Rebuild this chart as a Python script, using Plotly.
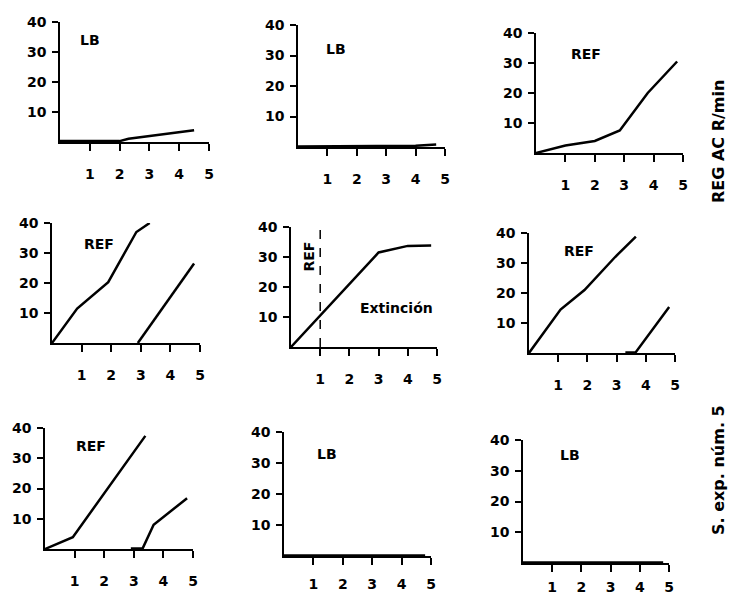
import plotly.graph_objects as go

# ---------------- data ----------------
x_ticks = [1, 2, 3, 4, 5]
y_ticks = [10, 20, 30, 40]

p1_x = [0, 2, 2.3, 3, 4.5]
p1_y = [0.3, 0.3, 1.1, 2.0, 3.9]

p2_x = [0, 3, 4, 4.7]
p2_y = [0.2, 0.2, 0.4, 0.8]

p3_x = [0, 1, 2, 2.85, 3.8, 4.8]
p3_y = [0, 2.5, 4, 7.5, 20, 30.5]

p4a_x = [0, 0.85, 1.9, 2.85, 3.3]
p4a_y = [0, 11.5, 20.3, 37, 40]
p4b_x = [2.9, 3.75, 4.8]
p4b_y = [0, 12, 26.5]

p5_x = [0, 1, 3, 4, 4.8]
p5_y = [0, 10.6, 31.5, 33.7, 33.8]
p5_ref_x = [1, 1]
p5_ref_y = [0, 40]

p6a_x = [0, 1.08, 1.9, 2.95, 3.66]
p6a_y = [0, 14.5, 21, 32, 38.8]
p6b_x = [3.3, 3.65, 4.8]
p6b_y = [0.2, 0.2, 15.3]

p7a_x = [0, 0.94, 3.39]
p7a_y = [0, 3.9, 37.4]
p7b_x = [2.9, 3.3, 3.67, 4.8]
p7b_y = [0.2, 0.2, 8, 16.8]

p8_x = [0, 4.8]
p8_y = [0.2, 0.2]

p9_x = [0, 4.8]
p9_y = [0.2, 0.2]

panel_series = [
    [(p1_x, p1_y)],
    [(p2_x, p2_y)],
    [(p3_x, p3_y)],
    [(p4a_x, p4a_y), (p4b_x, p4b_y)],
    [(p5_x, p5_y)],
    [(p6a_x, p6a_y), (p6b_x, p6b_y)],
    [(p7a_x, p7a_y), (p7b_x, p7b_y)],
    [(p8_x, p8_y)],
    [(p9_x, p9_y)],
]

panel_labels = ["LB", "LB", "REF", "REF", None, "REF", "REF", "LB", "LB"]
label_pos_x = [1.0, 1.3, 1.7, 1.6, None, 1.7, 1.55, 1.45, 1.6]
label_pos_y = [34, 32, 33, 33, None, 34, 34, 33, 35]

# ---------------- layout geometry (window pixels) ----------------
OFF = 8                      # default page body margin
W, H = 736 - 2 * OFF, 602 - 2 * OFF


def px_x(p):
    return (p - OFF) / W


def px_y(p):
    return 1 - (p - OFF) / H


# x pixel of 0, x pixel of 5, y pixel of 0, y pixel of 40, x-label standoff
geom = [
    (60, 209, 142, 22, 11),
    (298, 445, 147, 25, 11),
    (536, 683, 153, 33, 11),
    (52, 200, 343, 223, 11),
    (291, 437, 347, 227, 11),
    (529, 675, 353, 233, 11),
    (45, 193, 549, 428, 11),
    (284, 431, 556, 432, 7),
    (523, 669, 563, 440, 3),
]

font_t = dict(family="DejaVu Sans", size=14, color="black", weight="bold")
font_l = dict(family="DejaVu Sans", size=14, color="black", weight="bold")
font_s = dict(family="DejaVu Sans", size=16, color="black", weight="bold")

fig = go.Figure()
layout = dict(
    template="none",
    width=W, height=H, autosize=False,
    margin=dict(l=0, r=0, t=0, b=0, pad=0),
    paper_bgcolor="white", plot_bgcolor="white",
    showlegend=False,
)
annotations = []

for i, (g, series) in enumerate(zip(geom, panel_series)):
    n = i + 1
    xa = "xaxis" if n == 1 else f"xaxis{n}"
    ya = "yaxis" if n == 1 else f"yaxis{n}"
    xr = "x" if n == 1 else f"x{n}"
    yr = "y" if n == 1 else f"y{n}"
    x0, x5, y0, y40, stand = g
    layout[xa] = dict(
        domain=[px_x(x0), px_x(x5)], range=[0, 5], anchor=yr, automargin=False,
        showgrid=False, zeroline=False, showline=True, linecolor="black", linewidth=2,
        ticks="outside", ticklen=7, tickwidth=1.5, tickcolor="black",
        tickvals=x_ticks, ticktext=[str(v) for v in x_ticks],
        tickfont=font_t, ticklabelstandoff=stand, fixedrange=True,
    )
    layout[ya] = dict(
        domain=[px_y(y0), px_y(y40)], range=[0, 40], anchor=xr, automargin=False,
        showgrid=False, zeroline=False, showline=True, linecolor="black", linewidth=1.5,
        ticks="outside", ticklen=6, tickwidth=1.5, tickcolor="black",
        tickvals=y_ticks, ticktext=[str(v) for v in y_ticks],
        tickfont=font_t, ticklabelstandoff=3, fixedrange=True,
    )
    for sx, sy in series:
        fig.add_trace(go.Scatter(x=sx, y=sy, mode="lines", xaxis=xr, yaxis=yr,
                                 line=dict(color="black", width=2.5),
                                 hoverinfo="skip"))
    if panel_labels[i]:
        annotations.append(dict(text=panel_labels[i], x=label_pos_x[i], y=label_pos_y[i],
                                xref=xr, yref=yr, showarrow=False,
                                xanchor="center", yanchor="middle", font=font_l))

# extinction panel extras
fig.add_trace(go.Scatter(x=p5_ref_x, y=p5_ref_y, mode="lines", xaxis="x5", yaxis="y5",
                         line=dict(color="black", width=1.5, dash="dash"), hoverinfo="skip"))
annotations.append(dict(text="REF", x=0.6, y=30, xref="x5", yref="y5", showarrow=False,
                        textangle=-90, xanchor="center", yanchor="middle", font=font_l))
annotations.append(dict(text="Extinción", x=3.6, y=13, xref="x5", yref="y5", showarrow=False,
                        xanchor="center", yanchor="middle", font=font_l))

# side titles
annotations.append(dict(text="REG AC R/min", x=px_x(719), y=px_y(142), xref="paper", yref="paper",
                        showarrow=False, textangle=-90, xanchor="center", yanchor="middle",
                        font=font_s))
annotations.append(dict(text="S. exp. núm. 5", x=px_x(718), y=px_y(470), xref="paper", yref="paper",
                        showarrow=False, textangle=-90, xanchor="center", yanchor="middle",
                        font=font_s))

layout["annotations"] = annotations
fig.update_layout(**layout)
fig.write_html("out.html")
